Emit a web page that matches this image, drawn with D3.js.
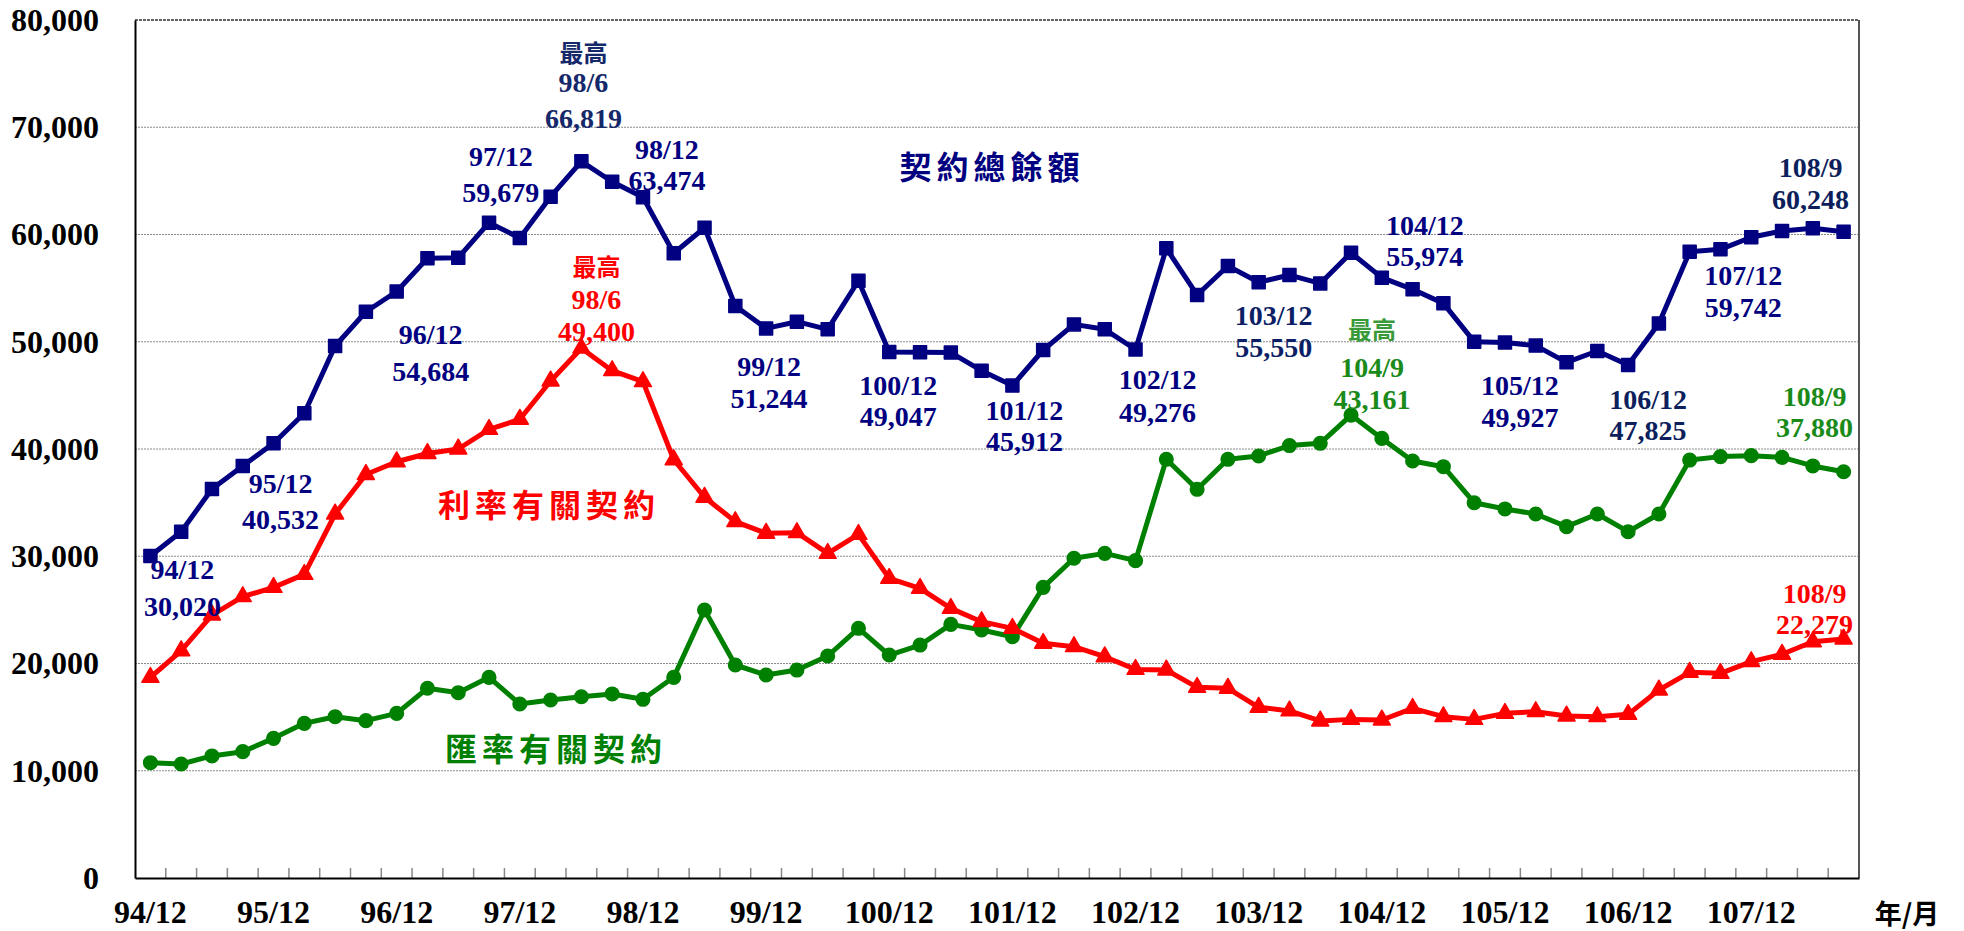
<!DOCTYPE html>
<html>
<head>
<meta charset="utf-8">
<script src="https://cdn.jsdelivr.net/npm/d3@7/dist/d3.min.js"></script>
<style>
  body { margin: 0; background: #fff; }
</style>
</head>
<body>
<div id="chart"></div>
<script>
// quarters (民國年/月)
const quarters = ["94/12","95/3","95/6","95/9","95/12","96/3","96/6","96/9","96/12","97/3","97/6","97/9","97/12",
  "98/3","98/6","98/9","98/12","99/3","99/6","99/9","99/12","100/3","100/6","100/9","100/12",
  "101/3","101/6","101/9","101/12","102/3","102/6","102/9","102/12","103/3","103/6","103/9","103/12",
  "104/3","104/6","104/9","104/12","105/3","105/6","105/9","105/12","106/3","106/6","106/9","106/12",
  "107/3","107/6","107/9","107/12","108/3","108/6","108/9"];

// 契約總餘額
const totalValues = [30020,32290,36270,38420,40532,43330,49600,52800,54684,57780,57840,61100,59679,
  63530,66819,64920,63474,58250,60630,53330,51244,51870,51160,55690,49047,
  49010,48990,47300,45912,49230,51620,51160,49276,58710,54360,57060,55550,
  56220,55440,58300,55974,54890,53580,50010,49927,49640,48080,49140,47825,
  51710,58400,58620,59742,60330,60580,60248];

// 利率有關契約
const rateValues = [18710,21190,24520,26230,27100,28310,33940,37620,38810,39580,40000,41830,42770,
  46340,49400,47300,46280,39000,35500,33230,32140,32200,30270,32040,27940,
  27010,25140,23900,23280,21880,21570,20630,19450,19390,17780,17690,15920,
  15580,14640,14790,14730,15820,15040,14790,15350,15510,15100,15040,15260,
  17530,19180,19080,20170,20860,22030,22279];

// 匯率有關契約
const fxValues = [10750,10630,11380,11780,13020,14420,15040,14670,15350,17690,17280,18710,16220,
  16600,16900,17160,16660,18710,24990,19860,18930,19390,20700,23280,20790,
  21720,23650,23120,22500,27100,29810,30270,29590,39040,36240,39040,39350,
  40320,40530,43161,40990,38880,38350,34990,34410,33940,32760,33940,32290,
  33940,38970,39290,39380,39220,38420,37880];

const yTicks = [0,10000,20000,30000,40000,50000,60000,70000,80000];
const xTickLabels = quarters.filter(q => q.endsWith("/12"));

const width = 1964, height = 931;
const plot = { left: 135, right: 1859, top: 20, bottom: 878 };
const latin = "'Liberation Serif','Times New Roman',serif";
const cjk = "'Noto Sans CJK TC','Noto Sans CJK SC',sans-serif";

const svg = d3.select("#chart").append("svg")
  .attr("width", width).attr("height", height)
  .style("display", "block");

const x = d3.scaleBand().domain(quarters).range([plot.left, plot.right]).padding(0);
const y = d3.scaleLinear().domain([0, 80000]).range([plot.bottom, plot.top]);
const cx = q => x(q) + x.bandwidth() / 2;
const fmt = d3.format(",");

// gridlines
svg.append("g")
  .selectAll("line")
  .data(yTicks.filter(d => d > 0 && d < 80000))
  .join("line")
  .attr("x1", plot.left).attr("x2", plot.right)
  .attr("y1", d => y(d)).attr("y2", d => y(d))
  .attr("stroke", "#8a8a8a").attr("stroke-width", 1)
  .attr("stroke-dasharray", "2,1");

// frame: top dark, right grey
svg.append("line").attr("x1", plot.left).attr("x2", plot.right)
  .attr("y1", plot.top).attr("y2", plot.top)
  .attr("stroke", "#333").attr("stroke-width", 1.5).attr("stroke-dasharray", "3,1");
svg.append("line").attr("x1", plot.right).attr("x2", plot.right)
  .attr("y1", plot.top).attr("y2", plot.bottom)
  .attr("stroke", "#555").attr("stroke-width", 2);

// y axis
const yAxis = svg.append("g")
  .attr("transform", `translate(${plot.left},0)`)
  .call(d3.axisLeft(y).tickValues(yTicks).tickFormat(fmt).tickSize(0).tickPadding(36));
yAxis.select(".domain").attr("stroke", "#000").attr("stroke-width", 2);
yAxis.selectAll("text")
  .attr("font-family", latin).attr("font-weight", "bold")
  .attr("font-size", 32).attr("fill", "#000");

// x axis: inward ticks at every quarter boundary
svg.append("g")
  .selectAll("line")
  .data(quarters.slice(1))
  .join("line")
  .attr("x1", d => x(d)).attr("x2", d => x(d))
  .attr("y1", plot.bottom).attr("y2", plot.bottom - 10)
  .attr("stroke", "#888").attr("stroke-width", 1.5);

const xAxis = svg.append("g")
  .attr("transform", `translate(0,${plot.bottom})`)
  .call(d3.axisBottom(x).tickValues(xTickLabels).tickSize(0).tickPadding(22));
xAxis.select(".domain").attr("stroke", "#000").attr("stroke-width", 2);
xAxis.selectAll("text")
  .attr("font-family", latin).attr("font-weight", "bold")
  .attr("font-size", 32).attr("fill", "#000");

svg.append("text")
  .attr("x", 1907).attr("y", 912)
  .attr("text-anchor", "middle").attr("dominant-baseline", "central")
  .attr("font-family", cjk).attr("font-weight", 700).attr("font-size", 27)
  .text("年/月");

// series
const series = [
  { key: "fx", values: fxValues, color: "#008000", symbol: d3.symbolCircle, size: 145 },
  { key: "rate", values: rateValues, color: "#ff0000", symbol: d3.symbolTriangle, size: 125 },
  { key: "total", values: totalValues, color: "#000080", symbol: d3.symbolSquare, size: 169 }
];

const line = d3.line().x(d => cx(d.q)).y(d => y(d.v));

series.forEach(s => {
  const pts = quarters.map((q, i) => ({ q, v: s.values[i] }));
  const g = svg.append("g");
  g.append("path")
    .attr("d", line(pts))
    .attr("fill", "none").attr("stroke", s.color)
    .attr("stroke-width", 5).attr("stroke-linejoin", "round");
  g.selectAll("path.m")
    .data(pts)
    .join("path")
    .attr("class", "m")
    .attr("transform", d => `translate(${cx(d.q)},${y(d.v)})`)
    .attr("d", d3.symbol(s.symbol, s.size))
    .attr("fill", s.color)
    .attr("stroke", s.color).attr("stroke-width", 1.5).attr("stroke-linejoin", "round");
});

// value labels: offsets from the data point
const notes = [
  { s: "total", i: 0, dx: 32, dy: [13, 50] },
  { s: "total", i: 4, dx: 7, dy: [40, 76] },
  { s: "total", i: 8, dx: 34, dy: [43, 80] },
  { s: "total", i: 12, dx: -19, dy: [-81, -45] },
  { s: "total", i: 14, dx: 2, dy: [-110, -79, -43], top: true, color: "#14286a" },
  { s: "total", i: 16, dx: 24, dy: [-48, -17] },
  { s: "total", i: 20, dx: 3, dy: [38, 70] },
  { s: "total", i: 24, dx: 9, dy: [34, 65] },
  { s: "total", i: 28, dx: 12, dy: [25, 56] },
  { s: "total", i: 32, dx: 22, dy: [30, 63] },
  { s: "total", i: 36, dx: 15, dy: [33, 65], color: "#0c1f66" },
  { s: "total", i: 40, dx: 43, dy: [-52, -21] },
  { s: "total", i: 44, dx: 15, dy: [43, 75] },
  { s: "total", i: 48, dx: 20, dy: [34, 65], color: "#0c1f5c" },
  { s: "total", i: 52, dx: -8, dy: [38, 70] },
  { s: "total", i: 55, dx: -33, dy: [-64, -32], color: "#0c1f5c" },
  { s: "rate", i: 14, dx: 15, dy: [-83, -49, -17], top: true },
  { s: "rate", i: 55, dx: -29, dy: [-46, -15] },
  { s: "fx", i: 39, dx: 21, dy: [-87, -48, -16], top: true, color: "#1a8a1a", topColor: "#3a9a3a" },
  { s: "fx", i: 55, dx: -29, dy: [-75, -44], color: "#1a8a1a" }
];

const byKey = Object.fromEntries(series.map(s => [s.key, s]));
const labels = svg.append("g");
notes.forEach(n => {
  const s = byKey[n.s];
  const q = quarters[n.i];
  const px = cx(q), py = y(s.values[n.i]);
  const lines = (n.top ? ["最高"] : []).concat([q, fmt(s.values[n.i])]);
  lines.forEach((t, k) => {
    const isCjk = t === "最高";
    labels.append("text")
      .attr("x", px + n.dx).attr("y", py + n.dy[k])
      .attr("text-anchor", "middle").attr("dominant-baseline", "central")
      .attr("font-family", isCjk ? cjk : latin)
      .attr("font-weight", isCjk ? 700 : "bold")
      .attr("font-size", isCjk ? 24 : 28)
      .attr("fill", isCjk && n.topColor ? n.topColor : (n.color || s.color))
      .text(t);
  });
});

// series names
const names = [
  { text: "契約總餘額", x: 992, y: 165, color: "#000080" },
  { text: "利率有關契約", x: 549, y: 503, color: "#ff0000" },
  { text: "匯率有關契約", x: 556, y: 747, color: "#008000" }
];
svg.append("g")
  .selectAll("text")
  .data(names)
  .join("text")
  .attr("x", d => d.x).attr("y", d => d.y)
  .attr("text-anchor", "middle").attr("dominant-baseline", "central")
  .attr("font-family", cjk).attr("font-weight", 700)
  .attr("font-size", 32).attr("letter-spacing", 5)
  .attr("fill", d => d.color)
  .text(d => d.text);
</script>
</body>
</html>
